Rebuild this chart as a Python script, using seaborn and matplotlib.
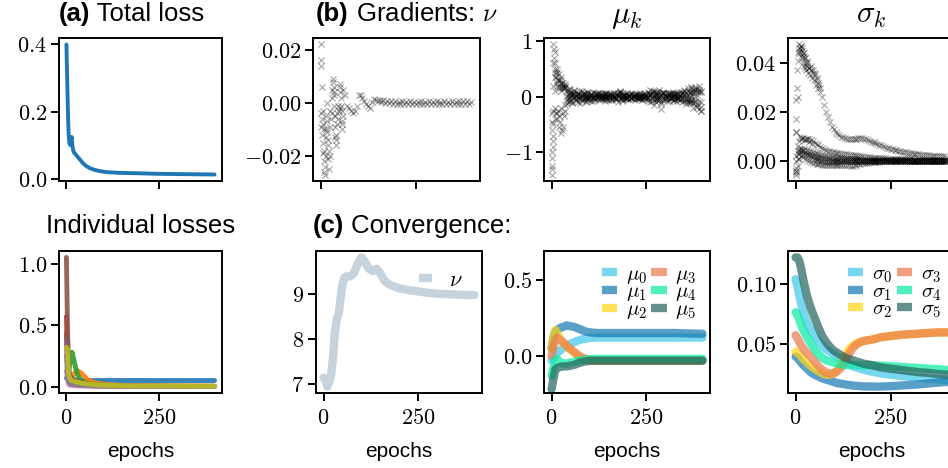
import matplotlib
matplotlib.use("Agg")
import matplotlib.pyplot as plt
import seaborn as sns
import numpy as np

# =========================
# DATA
# =========================
# (a) total loss
T_EPOCHS = [0, 2, 4, 6, 8, 10, 12, 14, 16, 18, 20, 25, 30, 37, 45, 55, 63, 75, 90, 110, 140, 180, 250, 320, 399]
TOTAL_LOSS = [0.40, 0.30, 0.20, 0.13, 0.105, 0.10, 0.115, 0.124, 0.10, 0.085, 0.078, 0.072, 0.065, 0.056, 0.045,
              0.036, 0.031, 0.026, 0.022, 0.019, 0.017, 0.016, 0.014, 0.013, 0.012]

# individual losses
L_EPOCHS = [0, 3, 6, 10, 15, 20, 25, 30, 35, 40, 50, 60, 80, 100, 150, 200, 300, 399]
LOSS_0 = [0.07, 0.06, 0.055, 0.055, 0.052, 0.05, 0.05, 0.05, 0.05, 0.05, 0.05, 0.05, 0.05, 0.05, 0.05, 0.05, 0.05, 0.05]
LOSS_1 = [0.45, 0.20, 0.10, 0.08, 0.09, 0.10, 0.12, 0.13, 0.12, 0.11, 0.08, 0.05, 0.03, 0.02, 0.01, 0.008, 0.005, 0.004]
LOSS_2 = [0.42, 0.20, 0.12, 0.20, 0.28, 0.22, 0.15, 0.10, 0.07, 0.05, 0.03, 0.02, 0.015, 0.01, 0.006, 0.004, 0.003, 0.002]
LOSS_3 = [0.57, 0.25, 0.10, 0.06, 0.05, 0.04, 0.035, 0.03, 0.025, 0.02, 0.015, 0.01, 0.008, 0.006, 0.004, 0.003, 0.002, 0.002]
LOSS_4 = [0.38, 0.18, 0.08, 0.06, 0.05, 0.04, 0.03, 0.025, 0.02, 0.018, 0.014, 0.01, 0.008, 0.006, 0.004, 0.003, 0.002, 0.002]
LOSS_5 = [1.05, 0.45, 0.14, 0.09, 0.07, 0.06, 0.05, 0.045, 0.04, 0.035, 0.028, 0.022, 0.016, 0.012, 0.008, 0.006, 0.004, 0.003]
LOSS_6 = [0.13, 0.06, 0.02, 0.01, 0.01, 0.009, 0.008, 0.007, 0.006, 0.006, 0.005, 0.004, 0.003, 0.003, 0.002, 0.002, 0.001, 0.001]
LOSS_7 = [0.25, 0.10, 0.04, 0.025, 0.02, 0.017, 0.015, 0.013, 0.012, 0.011, 0.01, 0.008, 0.006, 0.005, 0.004, 0.003, 0.002, 0.002]
LOSS_8 = [0.32, 0.30, 0.10, 0.06, 0.05, 0.045, 0.04, 0.036, 0.033, 0.03, 0.025, 0.02, 0.016, 0.012, 0.008, 0.006, 0.005, 0.004]
LOSSES = [LOSS_0, LOSS_1, LOSS_2, LOSS_3, LOSS_4, LOSS_5, LOSS_6, LOSS_7, LOSS_8]

# (b) gradients, recorded every 5 epochs
GRAD_EPOCHS = list(range(0, 400, 5))

NU_GRAD = [0.014, -0.008, -0.018, -0.010, -0.014, -0.020, -0.004, 0.004, -0.014, -0.006,
           -0.002, -0.008, 0.005, 0.003, -0.001, -0.002, -0.003, -0.004, -0.003, -0.001,
           0.003, 0.0028, 0.002, 0.0008, -0.0004, -0.0012, -0.0018, 0.0002, 0.0016, 0.0012,
           0.0006, 0.0010, 0.0002, 0.0009, 0.0001, 0.0008, -0.0002, 0.0007, -0.0003, 0.0006,
           -0.0004, 0.0005, -0.0003, 0.0006, -0.0005, 0.0004, -0.0004, 0.0006, -0.0003, 0.0005,
           -0.0005, 0.0004, -0.0004, 0.0006, -0.0004, 0.0005, -0.0005, 0.0006, -0.0004, 0.0005,
           -0.0004, 0.0006, -0.0005, 0.0005, -0.0004, 0.0006, -0.0005, 0.0004, -0.0004, 0.0006,
           -0.0005, 0.0005, -0.0006, 0.0006, -0.0004, 0.0007, -0.0005, 0.0006, -0.0006, 0.0005]
NU_GRAD_EARLY_EPOCHS = [1, 2, 3, 1, 2, 3, 4, 5, 6, 7,
                        8, 9, 10, 11, 12, 13, 14, 15, 16, 17,
                        18, 19, 20, 21, 22, 24, 26, 28, 30, 31,
                        32, 33, 34, 35, 36, 37, 38, 39, 40, 41,
                        42, 44, 46, 48, 50, 51, 52, 53, 54, 55,
                        56, 57, 58]
NU_GRAD_EARLY = [0.022, 0.016, 0.006, -0.004, -0.009, -0.006, -0.012, -0.015, -0.003, -0.019,
                 -0.010, -0.022, -0.026, -0.027, -0.024, -0.020, -0.013, -0.005, 0.000, -0.007,
                 -0.011, -0.016, -0.021, -0.025, -0.018, -0.009, -0.003, -0.006, 0.002, 0.005,
                 0.008, 0.009, 0.006, 0.003, -0.001, -0.005, -0.009, -0.013, -0.016, -0.012,
                 -0.008, -0.004, -0.001, -0.003, 0.007, 0.006, 0.004, 0.002, -0.001, -0.003,
                 -0.007, -0.010, -0.005]

MU_GRAD_0 = [-1.40, -0.80, 0.50, 0.30, 0.20, -0.65, 0.15, 0.20, 0.12, -0.10,
             0.14, -0.12, 0.10, 0.08, -0.09, 0.11, -0.08, 0.07, -0.10, 0.09,
             0.06, -0.07, 0.08, -0.06, 0.05, 0.07, -0.05, 0.06, -0.08, 0.05,
             0.04, -0.06, 0.05, 0.07, -0.04, 0.06, 0.10, -0.08, 0.05, -0.04,
             0.06, -0.05, 0.04, 0.05, -0.06, 0.04, -0.03, 0.05, -0.04, 0.06,
             0.05, -0.07, 0.12, 0.10, -0.15, 0.08, -0.06, 0.07, -0.22, 0.09,
             -0.05, 0.06, -0.07, 0.05, 0.08, -0.06, 0.07, -0.05, 0.09, -0.10,
             0.12, -0.08, 0.15, -0.12, 0.18, -0.20, 0.14, -0.16, 0.20, -0.25]
MU_GRAD_1 = [-1.00, 0.20, 0.35, -0.40, 0.40, 0.25, -0.55, 0.15, -0.05, 0.03,
             -0.02, 0.04, -0.03, 0.01, 0.02, -0.01, 0.03, -0.02, 0.00, -0.03,
             0.02, 0.01, -0.02, 0.03, -0.01, 0.00, 0.02, -0.03, 0.01, -0.02,
             0.03, 0.00, -0.01, 0.02, -0.02, 0.04, -0.03, 0.01, 0.00, 0.02,
             -0.01, 0.02, -0.02, 0.00, 0.01, -0.03, 0.02, -0.01, 0.03, 0.00,
             0.02, -0.02, 0.04, -0.03, 0.01, -0.04, 0.03, -0.02, 0.05, -0.06,
             0.02, -0.01, 0.03, -0.02, 0.00, 0.04, -0.03, 0.02, -0.04, 0.05,
             -0.03, 0.06, -0.05, 0.07, -0.06, 0.04, -0.08, 0.09, -0.07, 0.08]
MU_GRAD_2 = [-0.30, -0.50, 0.80, 0.45, -0.55, 0.15, 0.20, -0.25, 0.08, 0.05,
             -0.07, 0.04, 0.03, -0.06, 0.05, 0.02, -0.05, 0.03, 0.04, -0.04,
             -0.03, 0.04, 0.02, -0.03, 0.05, -0.02, 0.03, 0.01, -0.04, 0.02,
             -0.03, 0.04, 0.03, -0.02, -0.04, 0.05, 0.08, -0.03, 0.02, -0.03,
             0.03, 0.01, -0.03, 0.02, 0.03, -0.02, 0.03, -0.03, 0.02, 0.01,
             -0.03, 0.05, 0.04, -0.07, 0.09, -0.04, 0.02, -0.06, 0.04, 0.07,
             -0.04, 0.03, 0.04, -0.03, 0.03, -0.05, 0.04, -0.03, 0.02, 0.07,
             -0.08, 0.05, -0.09, 0.08, -0.06, 0.12, -0.10, 0.14, -0.22, 0.10]
MU_GRAD_3 = [-0.45, 0.60, 0.10, -0.30, 0.30, -0.20, 0.25, 0.18, -0.14, 0.13,
             0.09, -0.09, 0.12, -0.08, 0.06, -0.12, 0.10, 0.06, -0.08, 0.07,
             -0.06, 0.05, -0.07, 0.06, 0.07, -0.06, 0.05, -0.05, 0.06, 0.07,
             -0.06, 0.04, -0.06, 0.06, 0.05, -0.10, 0.08, 0.06, -0.06, 0.05,
             -0.04, 0.05, 0.06, -0.05, 0.04, 0.05, -0.05, 0.06, -0.06, 0.05,
             -0.05, 0.08, -0.09, 0.07, 0.11, -0.10, 0.09, 0.12, -0.14, 0.06,
             0.07, -0.08, 0.06, 0.06, -0.07, 0.05, -0.08, 0.07, -0.06, 0.08,
             0.10, -0.14, 0.11, -0.09, 0.15, -0.12, 0.17, -0.19, 0.13, -0.18]
MU_GRAD_4 = [-0.60, -0.25, 0.45, 0.25, 0.15, 0.30, -0.30, 0.22, 0.02, -0.03,
             0.01, 0.03, -0.01, 0.02, 0.00, -0.02, 0.01, -0.03, 0.02, 0.00,
             -0.01, 0.02, -0.02, 0.01, 0.00, 0.02, -0.01, 0.01, -0.02, 0.00,
             0.01, -0.01, 0.02, 0.00, -0.02, 0.01, 0.00, -0.01, 0.02, -0.01,
             0.00, 0.01, -0.02, 0.01, 0.00, -0.01, 0.02, 0.00, -0.01, 0.01,
             0.02, -0.01, 0.03, -0.02, 0.01, 0.03, -0.03, 0.00, 0.02, -0.03,
             0.01, 0.00, -0.02, 0.02, -0.01, 0.00, 0.03, -0.02, 0.01, -0.03,
             0.04, -0.02, 0.03, -0.05, 0.02, 0.06, -0.04, 0.03, 0.08, -0.10]
MU_GRAD_5 = [-1.25, 0.94, -0.20, 0.50, -0.35, 0.10, 0.20, -0.15, -0.08, 0.07,
             -0.06, 0.07, 0.04, -0.05, 0.06, -0.04, 0.03, 0.05, -0.03, -0.04,
             0.02, 0.04, -0.02, -0.03, 0.03, 0.04, -0.03, 0.03, 0.04, -0.03,
             0.02, 0.03, -0.04, 0.02, -0.03, 0.02, 0.06, -0.05, 0.03, 0.03,
             -0.03, 0.02, -0.02, 0.02, 0.03, -0.02, -0.03, 0.02, 0.02, -0.03,
             0.02, -0.04, 0.05, 0.05, -0.06, 0.07, 0.05, -0.04, -0.09, 0.06,
             0.02, -0.04, 0.04, -0.03, 0.04, 0.03, -0.03, 0.04, 0.03, -0.05,
             0.05, -0.05, -0.06, 0.08, -0.09, 0.08, 0.12, -0.14, 0.10, -0.25]
MU_GRADS = [MU_GRAD_0, MU_GRAD_1, MU_GRAD_2, MU_GRAD_3, MU_GRAD_4, MU_GRAD_5]
MU_GRAD_EARLY_EPOCHS = [1, 2, 3, 4, 6, 7, 8, 9, 11, 12, 13, 14, 16, 18, 22, 24, 27, 28, 32, 34]
MU_GRAD_EARLY = [-1.30, -1.10, -0.90, -0.70, 0.85, 0.70, 0.60, -0.40, 0.40, -0.30,
                 0.35, 0.20, -0.25, 0.30, -0.45, 0.35, -0.60, 0.25, -0.35, 0.15]

SIGMA_GRAD_0 = [0.012, 0.026, 0.045, 0.047, 0.044, 0.042, 0.040, 0.038, 0.039, 0.037,
                0.036, 0.034, 0.032, 0.030, 0.026, 0.023, 0.020, 0.018, 0.016, 0.014,
                0.013, 0.012, 0.011, 0.0105, 0.0100, 0.0097, 0.0094, 0.0091, 0.0089, 0.0088,
                0.0088, 0.0090, 0.0092, 0.0094, 0.0094, 0.0093, 0.0091, 0.0088, 0.0085, 0.0082,
                0.0079, 0.0076, 0.0073, 0.0070, 0.0067, 0.0064, 0.0061, 0.0058, 0.0055, 0.0052,
                0.0050, 0.0048, 0.0046, 0.0044, 0.0042, 0.0040, 0.0038, 0.0036, 0.0035, 0.0033,
                0.0032, 0.0031, 0.0030, 0.0029, 0.0028, 0.0027, 0.0026, 0.0025, 0.0024, 0.0023,
                0.0023, 0.0022, 0.0022, 0.0021, 0.0021, 0.0020, 0.0020, 0.0019, 0.0019, 0.0018]
SIGMA_GRAD_1 = [0.002, 0.006, 0.008, 0.009, 0.0095, 0.009, 0.0088, 0.0092, 0.0085, 0.0080,
                0.0075, 0.0070, 0.0064, 0.0058, 0.0053, 0.0049, 0.0045, 0.0042, 0.0040, 0.0038,
                0.0036, 0.0034, 0.0032, 0.0031, 0.0030, 0.0029, 0.0028, 0.0027, 0.0026, 0.0025,
                0.0024, 0.0023, 0.0022, 0.0021, 0.0020, 0.0019, 0.0018, 0.0017, 0.0016, 0.0015,
                0.0014, 0.0014, 0.0013, 0.0013, 0.0012, 0.0012, 0.0011, 0.0011, 0.0010, 0.0010,
                0.0010, 0.0009, 0.0009, 0.0009, 0.0008, 0.0008, 0.0008, 0.0008, 0.0007, 0.0007,
                0.0007, 0.0007, 0.0006, 0.0006, 0.0006, 0.0006, 0.0006, 0.0005, 0.0005, 0.0005,
                0.0005, 0.0005, 0.0005, 0.0004, 0.0004, 0.0004, 0.0004, 0.0004, 0.0004, 0.0004]
SIGMA_GRAD_2 = [0.000, 0.003, 0.005, 0.0055, 0.005, 0.0048, 0.0045, 0.0042, 0.0040, 0.0037,
                0.0034, 0.0031, 0.0028, 0.0025, 0.0023, 0.0021, 0.0019, 0.0017, 0.0016, 0.0015,
                0.0014, 0.0013, 0.0012, 0.0011, 0.0011, 0.0010, 0.0010, 0.0009, 0.0009, 0.0008,
                0.0008, 0.0008, 0.0007, 0.0007, 0.0007, 0.0006, 0.0006, 0.0006, 0.0006, 0.0005,
                0.0005, 0.0005, 0.0005, 0.0005, 0.0004, 0.0004, 0.0004, 0.0004, 0.0004, 0.0004,
                0.0003, 0.0003, 0.0003, 0.0003, 0.0003, 0.0003, 0.0003, 0.0003, 0.0003, 0.0003,
                0.0002, 0.0002, 0.0002, 0.0002, 0.0002, 0.0002, 0.0002, 0.0002, 0.0002, 0.0002,
                0.0002, 0.0002, 0.0002, 0.0002, 0.0002, 0.0002, 0.0002, 0.0002, 0.0002, 0.0002]
SIGMA_GRAD_3 = [-0.005, -0.002, 0.001, 0.002, 0.0015, 0.001, 0.0005, 0.000, -0.0003, -0.0006,
                -0.0009, -0.0011, -0.0013, -0.0014, -0.0015, -0.0016, -0.0016, -0.0017, -0.0017, -0.0017,
                -0.0017, -0.0017, -0.0017, -0.0017, -0.0017, -0.0017, -0.0016, -0.0016, -0.0018, -0.0019,
                -0.0019, -0.0018, -0.0016, -0.0014, -0.0012, -0.0010, -0.0008, -0.0007, -0.0006, -0.0005,
                -0.0004, -0.0003, -0.0003, -0.0002, -0.0002, -0.0001, -0.0001, 0.0000, 0.0000, 0.0000,
                0.0001, 0.0000, 0.0001, 0.0000, 0.0001, 0.0000, 0.0001, 0.0000, 0.0001, 0.0000,
                0.0001, 0.0000, 0.0001, 0.0000, 0.0001, 0.0000, 0.0001, 0.0000, 0.0001, 0.0000,
                0.0001, 0.0000, 0.0001, 0.0000, 0.0001, 0.0000, 0.0001, 0.0000, 0.0001, 0.0000]
SIGMA_GRAD_4 = [-0.004, 0.004, 0.003, 0.0035, 0.003, 0.0028, 0.0026, 0.0024, 0.0022, 0.0020,
                0.0018, 0.0016, 0.0014, 0.0012, 0.0011, 0.0010, 0.0009, 0.0008, 0.0007, 0.0006,
                0.0006, 0.0005, 0.0005, 0.0004, 0.0004, 0.0003, 0.0003, 0.0003, 0.0002, 0.0002,
                0.0002, 0.0001, 0.0002, 0.0001, 0.0002, 0.0001, 0.0002, 0.0001, 0.0002, 0.0001,
                0.0002, 0.0001, 0.0002, 0.0001, 0.0002, 0.0001, 0.0002, 0.0001, 0.0002, 0.0001,
                0.0002, 0.0001, 0.0002, 0.0001, 0.0002, 0.0001, 0.0002, 0.0001, 0.0002, 0.0001,
                0.0002, 0.0001, 0.0002, 0.0001, 0.0002, 0.0001, 0.0002, 0.0001, 0.0002, 0.0001,
                0.0002, 0.0001, 0.0002, 0.0001, 0.0002, 0.0001, 0.0002, 0.0001, 0.0002, 0.0001]
SIGMA_GRAD_5 = [-0.003, 0.001, 0.004, 0.0045, 0.004, 0.0035, 0.003, 0.0025, 0.002, 0.0015,
                0.001, 0.0007, 0.0004, 0.0002, 0.000, -0.0002, -0.0003, -0.0004, -0.0004, -0.0004,
                -0.0004, -0.0003, -0.0003, -0.0002, -0.0002, -0.0001, -0.0001, 0.0000, 0.0000, 0.0000,
                0.0000, 0.0000, 0.0000, 0.0000, 0.0000, 0.0000, 0.0000, 0.0000, 0.0000, 0.0000,
                0.0000, 0.0000, 0.0000, 0.0000, 0.0000, 0.0000, 0.0000, 0.0000, 0.0000, 0.0000,
                0.0000, 0.0000, 0.0000, 0.0000, 0.0000, 0.0000, 0.0000, 0.0000, 0.0000, 0.0000,
                0.0000, 0.0000, 0.0000, 0.0000, 0.0000, 0.0000, 0.0000, 0.0000, 0.0000, 0.0000,
                0.0000, 0.0000, 0.0000, 0.0000, 0.0000, 0.0000, 0.0000, 0.0000, 0.0000, 0.0000]
SIGMA_GRADS = [SIGMA_GRAD_0, SIGMA_GRAD_1, SIGMA_GRAD_2, SIGMA_GRAD_3, SIGMA_GRAD_4, SIGMA_GRAD_5]
SIGMA_GRAD_EARLY_EPOCHS = [1, 2, 3, 4, 6, 7, 8, 9, 11, 12, 13, 14, 16, 17, 18, 19, 21, 22, 23, 24,
                           26, 27, 28, 29, 31, 33, 36, 38, 41, 43, 46, 48, 51, 53, 56, 58, 61, 63,
                           0, 1, 2, 12, 18, 24, 30, 36, 42]
SIGMA_GRAD_EARLY = [0.017, 0.025, 0.030, 0.037, 0.041, 0.044, 0.046, 0.0476, 0.046, 0.044,
                    0.047, 0.043, 0.045, 0.042, 0.046, 0.040, 0.044, 0.039, 0.043, 0.038,
                    0.042, 0.040, 0.037, 0.041, 0.039, 0.036, 0.038, 0.035, 0.037, 0.034,
                    0.036, 0.033, 0.035, 0.031, 0.033, 0.030, 0.031, 0.028,
                    -0.0055, -0.004, 0.012, 0.010, 0.0095, 0.0085, 0.0092, 0.0078, 0.0070]

# (c) convergence
NU_EPOCHS = [0, 5, 10, 15, 20, 25, 30, 35, 40, 45, 50, 55, 60, 70, 80, 90, 100, 110, 120, 130,
             140, 150, 160, 170, 180, 200, 225, 250, 275, 300, 325, 350, 375, 399]
NU_VALUES = [7.15, 7.1, 6.95, 7.05, 7.2, 7.6, 8.15, 8.45, 8.55, 8.9, 9.2, 9.35, 9.38, 9.38, 9.45, 9.65, 9.8, 9.7, 9.55, 9.5,
             9.55, 9.45, 9.3, 9.22, 9.18, 9.12, 9.08, 9.05, 9.02, 9.0, 8.99, 8.98, 8.97, 8.97]

CONV_EPOCHS = [0, 5, 10, 15, 20, 30, 40, 50, 60, 70, 80, 90, 100, 110, 120, 130, 140, 150, 160, 170,
               180, 200, 225, 250, 275, 300, 325, 350, 375, 399]
MU_0 = [-0.03, -0.02, 0.00, 0.02, 0.03, 0.05, 0.065, 0.08, 0.09, 0.10, 0.108, 0.113, 0.117, 0.119, 0.12,
        0.12, 0.12, 0.12, 0.12, 0.12, 0.12, 0.12, 0.12, 0.12, 0.12, 0.12, 0.12, 0.12, 0.12, 0.12]
MU_1 = [0.05, 0.12, 0.16, 0.17, 0.18, 0.19, 0.20, 0.195, 0.19, 0.18, 0.17, 0.16, 0.155, 0.152, 0.15,
        0.15, 0.15, 0.15, 0.15, 0.15, 0.15, 0.15, 0.15, 0.15, 0.15, 0.15, 0.15, 0.148, 0.146, 0.145]
MU_2 = [0.05, 0.13, 0.17, 0.15, 0.12, 0.09, 0.06, 0.04, 0.02, 0.00, -0.015, -0.025, -0.03, -0.03, -0.03,
        -0.03, -0.03, -0.03, -0.03, -0.03, -0.03, -0.03, -0.03, -0.03, -0.03, -0.03, -0.03, -0.03, -0.03, -0.03]
MU_3 = [0.00, 0.06, 0.10, 0.12, 0.11, 0.09, 0.065, 0.045, 0.025, 0.005, -0.01, -0.02, -0.028, -0.03, -0.03,
        -0.03, -0.03, -0.03, -0.03, -0.03, -0.03, -0.03, -0.03, -0.03, -0.03, -0.03, -0.03, -0.03, -0.03, -0.03]
MU_4 = [-0.13, -0.08, -0.03, -0.02, -0.04, -0.05, -0.05, -0.045, -0.04, -0.033, -0.028, -0.024, -0.022, -0.02, -0.02,
        -0.02, -0.02, -0.02, -0.02, -0.02, -0.02, -0.02, -0.02, -0.02, -0.02, -0.02, -0.02, -0.02, -0.02, -0.02]
MU_5 = [-0.22, -0.15, -0.09, -0.08, -0.075, -0.07, -0.07, -0.065, -0.06, -0.05, -0.042, -0.037, -0.034, -0.033, -0.033,
        -0.033, -0.033, -0.033, -0.033, -0.033, -0.033, -0.033, -0.033, -0.033, -0.033, -0.033, -0.033, -0.033, -0.033, -0.033]
MUS = [MU_0, MU_1, MU_2, MU_3, MU_4, MU_5]

SIGMA_0 = [0.104, 0.098, 0.090, 0.083, 0.077, 0.068, 0.062, 0.057, 0.053, 0.049, 0.046, 0.044, 0.042, 0.040, 0.038,
           0.036, 0.034, 0.032, 0.031, 0.030, 0.029, 0.0275, 0.026, 0.025, 0.024, 0.0232, 0.0225, 0.0218, 0.0212, 0.0207]
SIGMA_1 = [0.040, 0.039, 0.037, 0.035, 0.033, 0.030, 0.027, 0.025, 0.0235, 0.022, 0.021, 0.020, 0.019, 0.018, 0.0175,
           0.017, 0.0165, 0.016, 0.0158, 0.0155, 0.0153, 0.0152, 0.0152, 0.0155, 0.016, 0.0165, 0.017, 0.0178, 0.0185, 0.019]
SIGMA_2 = [0.044, 0.043, 0.042, 0.040, 0.038, 0.035, 0.032, 0.030, 0.028, 0.026, 0.025, 0.025, 0.026, 0.029, 0.034,
           0.040, 0.046, 0.049, 0.051, 0.052, 0.053, 0.054, 0.056, 0.057, 0.058, 0.0585, 0.059, 0.0595, 0.060, 0.060]
SIGMA_3 = [0.0576, 0.055, 0.052, 0.049, 0.047, 0.043, 0.040, 0.036, 0.032, 0.029, 0.027, 0.026, 0.026, 0.028, 0.031,
           0.036, 0.042, 0.047, 0.050, 0.052, 0.053, 0.054, 0.056, 0.057, 0.058, 0.0585, 0.059, 0.0595, 0.060, 0.060]
SIGMA_4 = [0.0767, 0.074, 0.070, 0.066, 0.062, 0.056, 0.051, 0.046, 0.042, 0.039, 0.037, 0.036, 0.035, 0.034, 0.0335,
           0.033, 0.033, 0.033, 0.033, 0.033, 0.033, 0.0328, 0.0325, 0.032, 0.0315, 0.031, 0.0305, 0.030, 0.0295, 0.029]
SIGMA_5 = [0.122, 0.122, 0.119, 0.112, 0.104, 0.090, 0.080, 0.072, 0.064, 0.057, 0.052, 0.048, 0.045, 0.043, 0.041,
           0.039, 0.038, 0.037, 0.036, 0.035, 0.034, 0.033, 0.031, 0.030, 0.029, 0.028, 0.027, 0.0265, 0.0255, 0.025]
SIGMAS = [SIGMA_0, SIGMA_1, SIGMA_2, SIGMA_3, SIGMA_4, SIGMA_5]

COMP_COLORS = ["#3ec6e9", "#1377b0", "#ffd413", "#ea774c", "#05eaa2", "#22625b"]
NU_COLOR = "#c6d2dc"

# =========================
# STYLE
# =========================
sns.set_style("ticks")
plt.rcParams["font.family"] = ["Liberation Sans", "DejaVu Sans"]
plt.rcParams["mathtext.fontset"] = "cm"
plt.rcParams["axes.linewidth"] = 1.4
plt.rcParams["text.color"] = "black"
plt.rcParams["axes.labelcolor"] = "black"
plt.rcParams["axes.edgecolor"] = "black"
for k in ["xtick", "ytick"]:
    plt.rcParams[f"{k}.major.size"] = 6
    plt.rcParams[f"{k}.major.width"] = 1.4
    plt.rcParams[f"{k}.labelsize"] = 16
    plt.rcParams[f"{k}.color"] = "black"
    plt.rcParams[f"{k}.labelcolor"] = "black"
plt.rcParams["xtick.major.pad"] = 5
plt.rcParams["ytick.major.pad"] = 2.5

W, H = 948, 468
TITLE_FS = 18.5
fig = plt.figure(figsize=(W / 100, H / 100), dpi=100)


def px_axes(left, top, right, bottom):
    return fig.add_axes([left / W, 1 - bottom / H, (right - left) / W, (bottom - top) / H])


def math_ticks(ax, axis, ticks, fmt):
    labels = [f"${fmt.format(t)}$" for t in ticks]
    if axis == "x":
        ax.set_xticks(ticks, labels=labels)
    else:
        ax.set_yticks(ticks, labels=labels)


def two_part_title(x_px, y_px, bold, rest, fs):
    t = fig.text(x_px / W, 1 - y_px / H, bold, fontsize=fs, fontweight="bold", va="baseline", ha="left")
    fig.axes[0].annotate(rest, xy=(1, 0), xycoords=t, va="bottom", ha="left",
                         fontsize=fs, annotation_clip=False)


def square_legend(ax, **kw):
    leg = ax.legend(**kw)
    for h in leg.legend_handles:
        h.set_solid_capstyle("butt")
    return leg


ax_tl = px_axes(59, 38, 222, 181)
ax_gnu = px_axes(313, 38, 480, 181)
ax_gmu = px_axes(544, 38, 710, 181)
ax_gsig = px_axes(788, 38, 955, 181)
ax_il = px_axes(59, 251, 222, 393)
ax_cnu = px_axes(316, 251, 482, 393)
ax_cmu = px_axes(544, 251, 710, 393)
ax_csig = px_axes(788, 251, 955, 393)

XLIM = (-20, 419)

# (a) total loss
sns.lineplot(x=T_EPOCHS, y=TOTAL_LOSS, ax=ax_tl, color="#1f77b4", lw=2.8, solid_capstyle="round")
math_ticks(ax_tl, "y", [0.0, 0.2, 0.4], "{:.1f}")

# individual losses
tab10 = sns.color_palette("tab10")
for i, loss in enumerate(LOSSES):
    sns.lineplot(x=L_EPOCHS, y=loss, ax=ax_il, color=tab10[i], lw=3.5, alpha=0.9,
                 solid_capstyle="round")
math_ticks(ax_il, "y", [0.0, 0.5, 1.0], "{:.1f}")
ax_il.set_title("Individual losses", fontsize=TITLE_FS, pad=13)

# (b) gradients
mk = dict(marker="x", color="black", s=20, linewidth=0.8, alpha=0.35, legend=False)
sns.scatterplot(x=NU_GRAD_EARLY_EPOCHS, y=NU_GRAD_EARLY, ax=ax_gnu, **mk)
sns.scatterplot(x=GRAD_EPOCHS, y=NU_GRAD, ax=ax_gnu, **mk)
math_ticks(ax_gnu, "y", [-0.02, 0.0, 0.02], "{:.2f}")

for g in MU_GRADS:
    sns.scatterplot(x=GRAD_EPOCHS, y=g, ax=ax_gmu, **mk)
sns.scatterplot(x=MU_GRAD_EARLY_EPOCHS, y=MU_GRAD_EARLY, ax=ax_gmu, **mk)
math_ticks(ax_gmu, "y", [-1, 0, 1], "{:d}")
ax_gmu.set_title(r"$\mu_k$", fontsize=22, pad=11)

for g in SIGMA_GRADS:
    sns.scatterplot(x=GRAD_EPOCHS, y=g, ax=ax_gsig, **mk)
sns.scatterplot(x=SIGMA_GRAD_EARLY_EPOCHS, y=SIGMA_GRAD_EARLY, ax=ax_gsig, **mk)
math_ticks(ax_gsig, "y", [0.0, 0.02, 0.04], "{:.2f}")
ax_gsig.set_title(r"$\sigma_k$", fontsize=22, pad=11)

# (c) convergence
sns.lineplot(x=NU_EPOCHS, y=NU_VALUES, ax=ax_cnu, color=NU_COLOR, lw=6, label=r"$\nu$", solid_capstyle="round")
math_ticks(ax_cnu, "y", [7, 8, 9], "{:d}")
square_legend(ax_cnu, loc="upper right", frameon=False, fontsize=16, handlelength=0.55, handletextpad=0.8,
              borderaxespad=0.45)

leg_kw = dict(loc="upper right", ncol=2, frameon=False, fontsize=15, handlelength=0.75, handletextpad=0.4,
              columnspacing=0.2, labelspacing=-0.15, borderaxespad=0.25)
for i, m in enumerate(MUS):
    sns.lineplot(x=CONV_EPOCHS, y=m, ax=ax_cmu, color=COMP_COLORS[i], lw=6, alpha=0.7,
                 label=rf"$\mu_{i}$", solid_capstyle="round")
ax_cmu.set_ylim(-0.245, 0.69)
math_ticks(ax_cmu, "y", [0.0, 0.5], "{:.1f}")
square_legend(ax_cmu, **leg_kw)

for i, s in enumerate(SIGMAS):
    sns.lineplot(x=CONV_EPOCHS, y=s, ax=ax_csig, color=COMP_COLORS[i], lw=6, alpha=0.7,
                 label=rf"$\sigma_{i}$", solid_capstyle="round")
math_ticks(ax_csig, "y", [0.05, 0.10], "{:.2f}")
square_legend(ax_csig, **leg_kw)

for ax in [ax_tl, ax_gnu, ax_gmu, ax_gsig, ax_il, ax_cnu, ax_cmu, ax_csig]:
    ax.set_xlim(*XLIM)
    ax.set_ylabel("")
    ax.set_xlabel("")
for ax in [ax_tl, ax_gnu, ax_gmu, ax_gsig]:
    ax.set_xticks([0, 250])
    ax.tick_params(axis="x", labelbottom=False)
for ax in [ax_il, ax_cnu, ax_cmu, ax_csig]:
    math_ticks(ax, "x", [0, 250], "{:d}")
    ax.set_xlabel("epochs", fontsize=15, labelpad=9)

two_part_title(59, 21, "(a)", " Total loss", TITLE_FS)
two_part_title(316, 21, "(b)", r" Gradients: $\nu$", TITLE_FS)
two_part_title(313, 233, "(c)", " Convergence:", TITLE_FS)

fig.savefig("out.png", dpi=100)
